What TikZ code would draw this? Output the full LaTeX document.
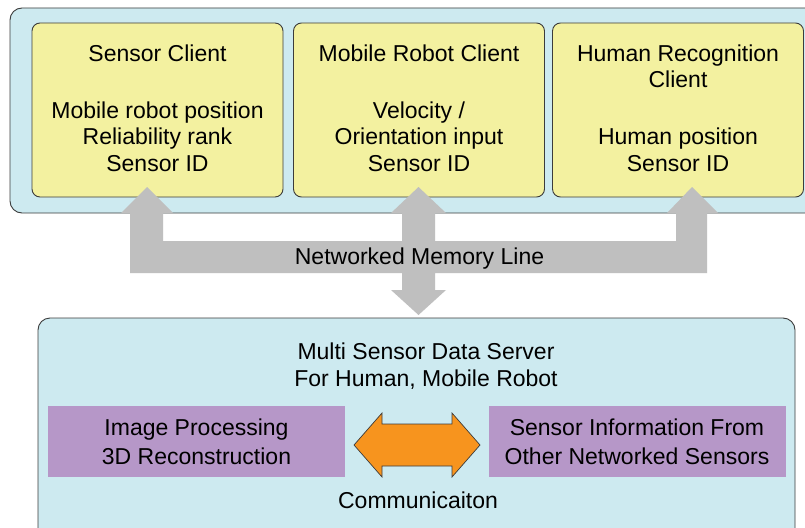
\documentclass[tikz,border=0pt]{standalone}
\usepackage{fontspec}
\setmainfont{Liberation Sans}
\definecolor{contblue}{HTML}{CDEAF0}
\definecolor{clientyellow}{HTML}{F3F1A0}
\definecolor{procpurple}{HTML}{B697C8}
\definecolor{linegray}{HTML}{BFBFBF}
\definecolor{commorange}{HTML}{F7941E}
\definecolor{edgedark}{HTML}{3C3C3C}
\tikzset{
  txt/.style={font=\fontsize{23}{26.5}\selectfont, align=center, inner sep=0pt},
  container/.style={draw=edgedark, line width=0.9pt, fill=contblue, rounded corners=12pt},
  clientbox/.style={txt, draw=edgedark, line width=0.9pt, fill=clientyellow, rounded corners=8pt,
     minimum width=251pt, minimum height=174pt},
  procbox/.style={txt, font=\fontsize{23}{29}\selectfont, fill=procpurple, minimum width=297pt, minimum height=71pt},
}
\begin{document}
\begin{tikzpicture}[x=1pt,y=-1pt]
\useasboundingbox (0,0) rectangle (805,527);
\clip (0,0) rectangle (805,527);
\fill[white] (0,0) rectangle (805,527);
% top container
\draw[container] (10,8) rectangle (840,213);
\node[clientbox] (sc) at (157.5,110) {Sensor Client\\[30.5pt]Mobile robot position\\Reliability rank\\Sensor ID\\[-22.5pt]\mbox{}};
\node[clientbox] (mr) at (419,110) {Mobile Robot Client\\[30.5pt]Velocity /\\Orientation input\\Sensor ID\\[-22.5pt]\mbox{}};
\node[clientbox] (hr) at (678,110) {Human Recognition\\Client\\[30.5pt]Human position\\Sensor ID\\[-22.5pt]\mbox{}};
% bottom container
\draw[container] (38,318) rectangle (795,570);
% networked memory line (gray composite arrow)
\fill[linegray] (147,187) -- (173,213) -- (163,213) -- (163,241) -- (402,241) -- (402,213) -- (391,213)
  -- (418.5,187) -- (446,213) -- (435,213) -- (435,241) -- (676,241) -- (676,213) -- (667,213)
  -- (692,187) -- (718,213) -- (707,213) -- (707,273) -- (435,273) -- (435,290) -- (446,290)
  -- (418.5,315) -- (391,290) -- (402,290) -- (402,273) -- (130,273) -- (130,213) -- (121,213) -- cycle;
\node[txt] (nml) at (419.5,259) {Networked Memory Line};
% server texts
\node[txt] (srv) at (426,366) {Multi Sensor Data Server\\For Human, Mobile Robot};
\node[procbox] (ip) at (196.5,441.5) {Image Processing\\3D Reconstruction};
\node[procbox] (si) at (637,441.5) {Sensor Information From\\Other Networked Sensors};
\node[txt] (com) at (418,500) {Communicaiton};
% orange double arrow
\draw[draw=edgedark, line width=0.7pt, fill=commorange, line join=miter]
  (354,445) -- (382,413) -- (382,424) -- (452,424) -- (452,413) -- (480,445)
  -- (452,477) -- (452,466) -- (382,466) -- (382,477) -- cycle;
\end{tikzpicture}
\end{document}
